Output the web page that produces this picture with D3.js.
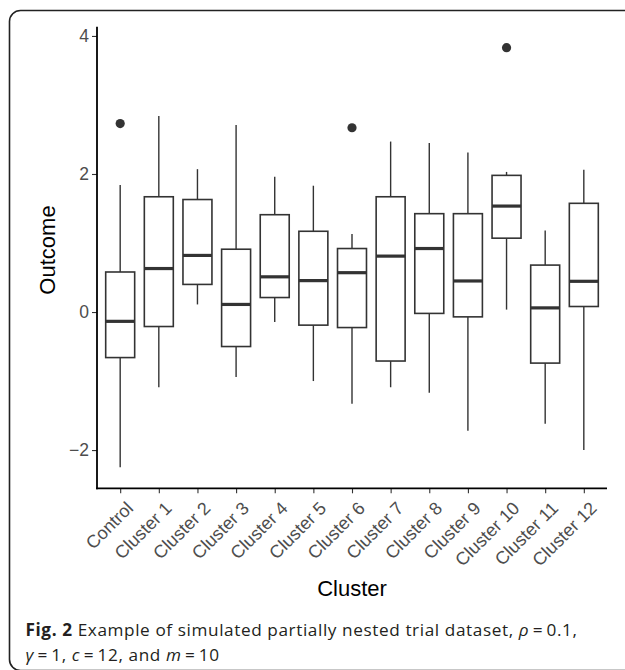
<!DOCTYPE html>
<html>
<head>
<meta charset="utf-8">
<script src="https://cdn.jsdelivr.net/npm/d3@7"></script>
<style>
  body { margin: 0; background: #fff; }
  svg { display: block; }
</style>
</head>
<body>
<div class="graphic"></div>
<script>
var width = 625;
var height = 670;

// box statistics
var clusters = ["Control", "Cluster 1", "Cluster 2", "Cluster 3", "Cluster 4", "Cluster 5", "Cluster 6",
                "Cluster 7", "Cluster 8", "Cluster 9", "Cluster 10", "Cluster 11", "Cluster 12"];
var whiskerLow  = [-2.25, -1.09, 0.11, -0.94, -0.145, -1.00, -1.33, -1.09, -1.17, -1.72, 0.035, -1.62, -2.00];
var lowerQ      = [-0.66, -0.21, 0.40, -0.50, 0.21, -0.19, -0.225, -0.71, -0.02, -0.07, 1.07, -0.74, 0.08];
var medians     = [-0.135, 0.63, 0.82, 0.11, 0.51, 0.455, 0.57, 0.81, 0.92, 0.45, 1.535, 0.06, 0.445];
var upperQ      = [0.58, 1.67, 1.63, 0.91, 1.41, 1.17, 0.92, 1.67, 1.425, 1.425, 1.98, 0.68, 1.575];
var whiskerHigh = [1.84, 2.84, 2.07, 2.71, 1.96, 1.83, 1.13, 2.47, 2.45, 2.31, 2.03, 1.18, 2.06];
var outlierCluster = ["Control", "Cluster 6", "Cluster 10"];
var outlierValue   = [2.73, 2.67, 3.83];
var yTicks = [-2, 0, 2, 4];

var boxes = clusters.map(function(c, i){
	return {name: c, lo: whiskerLow[i], q1: lowerQ[i], med: medians[i], q3: upperQ[i], hi: whiskerHigh[i]};
});
var outliers = outlierCluster.map(function(c, i){ return {name: c, value: outlierValue[i]}; });

var plot = {left: 97, right: 607, top: 26.7, bottom: 488.3};

var svg = d3.select("div.graphic").append("svg")
	.attr("width", width)
	.attr("height", height);

// panel frame of the figure
svg.append("rect")
	.attr("x", 9.5).attr("y", 10.5)
	.attr("width", 660).attr("height", 660)
	.attr("rx", 11).attr("ry", 11)
	.attr("fill", "none")
	.attr("stroke", "#222")
	.attr("stroke-width", 1.6);

var x = d3.scalePoint()
	.domain(clusters)
	.range([plot.left, plot.right])
	.padding(0.6);

// ggplot style 5% expansion
var allVals = whiskerLow.concat(whiskerHigh, outlierValue);
var yMin = d3.min(allVals), yMax = d3.max(allVals);
var pad = (yMax - yMin) * 0.05;
var y = d3.scaleLinear()
	.domain([yMin - pad, yMax + pad])
	.range([plot.bottom, plot.top]);

var boxW = x.step() * 0.75;
var ink = "#333333";

// y axis
var yAxis = svg.append("g")
	.attr("transform", "translate(" + plot.left + ",0)")
	.call(d3.axisLeft(y).tickValues(yTicks).tickSize(5).tickPadding(3)
		.tickFormat(function(d){ return d < 0 ? "\u2212" + Math.abs(d) : d; }));
yAxis.select(".domain").remove();
yAxis.selectAll(".tick line").attr("stroke", ink).attr("stroke-width", 1.1);
yAxis.selectAll(".tick text")
	.attr("fill", "#4d4d4d")
	.style("font-family", "'Liberation Sans', Arial, sans-serif")
	.style("font-size", "17.5px");

// x axis
var xAxis = svg.append("g")
	.attr("transform", "translate(0," + plot.bottom + ")")
	.call(d3.axisBottom(x).tickSize(5).tickFormat(""));
xAxis.select(".domain").remove();
xAxis.selectAll(".tick line").attr("stroke", ink).attr("stroke-width", 1.1);

svg.append("g").selectAll("text")
	.data(clusters)
	.enter()
	.append("text")
	.attr("transform", function(d){ return "translate(" + (x(d) + 5) + "," + (plot.bottom + 12) + ") rotate(-45)"; })
	.attr("text-anchor", "end")
	.attr("dy", "0.71em")
	.attr("fill", "#4d4d4d")
	.style("font-family", "'Liberation Sans', Arial, sans-serif")
	.style("font-size", "18px")
	.text(function(d){ return d; });

// axis lines
svg.append("line")
	.attr("x1", plot.left).attr("x2", plot.left)
	.attr("y1", plot.top).attr("y2", plot.bottom + 0.9)
	.attr("stroke", "#000").attr("stroke-width", 1.8);
svg.append("line")
	.attr("x1", plot.left - 0.9).attr("x2", plot.right)
	.attr("y1", plot.bottom).attr("y2", plot.bottom)
	.attr("stroke", "#000").attr("stroke-width", 1.8);

// boxplots
var g = svg.append("g");
var box = g.selectAll("g.box")
	.data(boxes)
	.enter()
	.append("g")
	.attr("class", "box");

box.append("line")
	.attr("x1", function(d){ return x(d.name); })
	.attr("x2", function(d){ return x(d.name); })
	.attr("y1", function(d){ return y(d.hi); })
	.attr("y2", function(d){ return y(d.q3); })
	.attr("stroke", ink).attr("stroke-width", 1.4);
box.append("line")
	.attr("x1", function(d){ return x(d.name); })
	.attr("x2", function(d){ return x(d.name); })
	.attr("y1", function(d){ return y(d.q1); })
	.attr("y2", function(d){ return y(d.lo); })
	.attr("stroke", ink).attr("stroke-width", 1.4);
box.append("rect")
	.attr("x", function(d){ return x(d.name) - boxW / 2; })
	.attr("width", boxW)
	.attr("y", function(d){ return y(d.q3); })
	.attr("height", function(d){ return y(d.q1) - y(d.q3); })
	.attr("fill", "#fff")
	.attr("stroke", ink).attr("stroke-width", 1.6);
box.append("line")
	.attr("x1", function(d){ return x(d.name) - boxW / 2; })
	.attr("x2", function(d){ return x(d.name) + boxW / 2; })
	.attr("y1", function(d){ return y(d.med); })
	.attr("y2", function(d){ return y(d.med); })
	.attr("stroke", ink).attr("stroke-width", 3.2);

g.selectAll("circle")
	.data(outliers)
	.enter()
	.append("circle")
	.attr("cx", function(d){ return x(d.name); })
	.attr("cy", function(d){ return y(d.value); })
	.attr("r", 4.6)
	.attr("fill", ink);

// axis titles
svg.append("text")
	.attr("x", (plot.left + plot.right) / 2)
	.attr("y", 596)
	.attr("text-anchor", "middle")
	.style("font-family", "'Liberation Sans', Arial, sans-serif")
	.style("font-size", "22px")
	.text("Cluster");
svg.append("text")
	.attr("transform", "translate(55,250) rotate(-90)")
	.attr("text-anchor", "middle")
	.style("font-family", "'Liberation Sans', Arial, sans-serif")
	.style("font-size", "22px")
	.text("Outcome");

// caption
var capFont = "'Open Sans', 'Noto Sans', sans-serif";
var capSize = 17.2;
var cap1 = svg.append("text")
	.attr("x", 25.5).attr("y", 636)
	.attr("fill", "#231f20")
	.style("font-family", capFont)
	.style("font-size", capSize + "px");
cap1.append("tspan").style("font-weight", "bold").text("Fig. 2");
cap1.append("tspan").text(" Example of simulated partially nested trial dataset, ");
cap1.append("tspan").style("font-style", "italic").text("\u03c1");
cap1.append("tspan").text("\u2009=\u20090.1,");

var cap2 = svg.append("text")
	.attr("x", 25.5).attr("y", 660.5)
	.attr("fill", "#231f20")
	.style("font-family", capFont)
	.style("font-size", capSize + "px");
cap2.append("tspan").style("font-style", "italic").text("\u03b3");
cap2.append("tspan").text("\u2009=\u20091, ");
cap2.append("tspan").style("font-style", "italic").text("c");
cap2.append("tspan").text("\u2009=\u200912, and ");
cap2.append("tspan").style("font-style", "italic").text("m");
cap2.append("tspan").text("\u2009=\u200910");

// widen the first line to the original's 552px with letter spacing
var natural = cap1.node().getComputedTextLength();
var nChars = cap1.text().length;
var spacing = Math.max(0, (552 - natural) / nChars);
cap1.style("letter-spacing", spacing + "px");
cap2.style("letter-spacing", spacing + "px");
</script>
</body>
</html>
